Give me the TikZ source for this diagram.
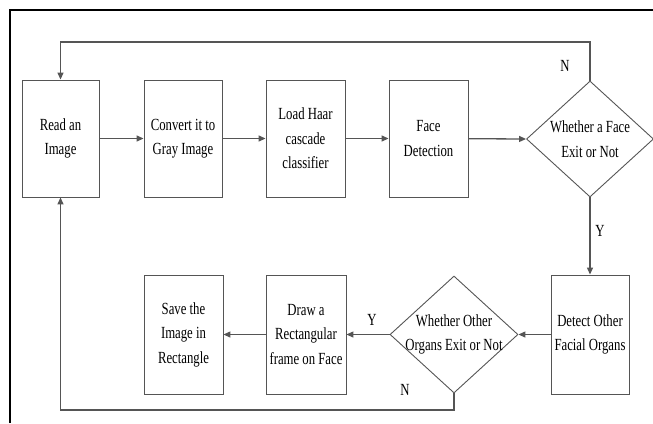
\documentclass[tikz,border=0pt]{standalone}
\usepackage{fontspec}
\setmainfont{Liberation Serif}[FakeStretch=0.75]
\usetikzlibrary{arrows.meta, positioning, shapes.geometric}
\definecolor{linegray}{RGB}{85,85,85}

\begin{document}
\begin{tikzpicture}[x=1pt, y=-1pt,
    box/.style={rectangle, draw=linegray, line width=0.9pt,
                minimum width=78pt, minimum height=117pt,
                inner sep=0pt, font=\fontsize{17}{24.5}\selectfont,
                align=center},
    dec/.style={diamond, draw=linegray, line width=0.9pt,
                minimum width=127pt, minimum height=116pt,
                inner sep=0pt},
    txt/.style={font=\fontsize{17}{24.5}\selectfont, align=center,
                inner sep=0pt},
    lab/.style={font=\fontsize{17}{18}\selectfont, inner sep=0pt},
    arr/.style={-{Triangle[length=7pt,width=6pt]}, line width=1.3pt,
                draw=linegray}
]
    \useasboundingbox (0,0) rectangle (653,423);
    \draw[line width=2pt] (10,423) -- (10,10) -- (653,10);

    % top row
    \node[box, minimum width=77pt] (read) at (60.5,138.5) {Read an\\Image};
    \node[box] (gray) at (183,138.5) {Convert it to\\Gray Image};
    \node[box, minimum width=79pt] (haar) at (305.5,138.5)
        {Load Haar\\cascade\\classifier};
    \node[box, minimum width=79pt] (face) at (428.5,138.5)
        {Face\\Detection};
    \node[dec] (facedec) at (590,139) {};
    \node[txt] (facetxt) at (facedec) {Whether a Face\\Exit or Not};

    % bottom row
    \node[box, minimum height=119pt] (organs) at (590,334.5)
        {Detect Other\\Facial Organs};
    \node[dec, minimum width=128pt, minimum height=117pt] (orgdec)
        at (454,334.5) {};
    \node[txt] (orgtxt) at (orgdec) {Whether Other\\Organs Exit or Not};
    \node[box, minimum width=80pt, minimum height=119pt] (frame)
        at (306,334.5) {Draw a\\Rectangular\\frame on Face};
    \node[box, minimum width=79pt, minimum height=119pt] (save)
        at (183.5,334.5) {Save the\\Image in\\Rectangle};

    \coordinate (topN) at (590,42);
    \coordinate (botN) at (454,410);

    \draw[arr] (read) -- (gray);
    \draw[arr] (gray) -- (haar);
    \draw[arr] (haar) -- (face);
    \draw[arr] (face) -- (facedec.west);
    \draw[arr] (facedec.north) -- (topN) -| (read.north);
    \draw[arr] (facedec.south) -- (organs.north);
    \draw[arr] (organs) -- (orgdec.east);
    \draw[arr] (orgdec.west) -- (frame);
    \draw[arr] (frame) -- (save);
    \draw[arr] (orgdec.south) -- (botN) -| (read.south);

    \node[lab] (n1) at (565,66) {N};
    \node[lab] (y1) at (600,231) {Y};
    \node[lab] (y2) at (372,320) {Y};
    \node[lab] (n2) at (405,390) {N};
\end{tikzpicture}
\end{document}
